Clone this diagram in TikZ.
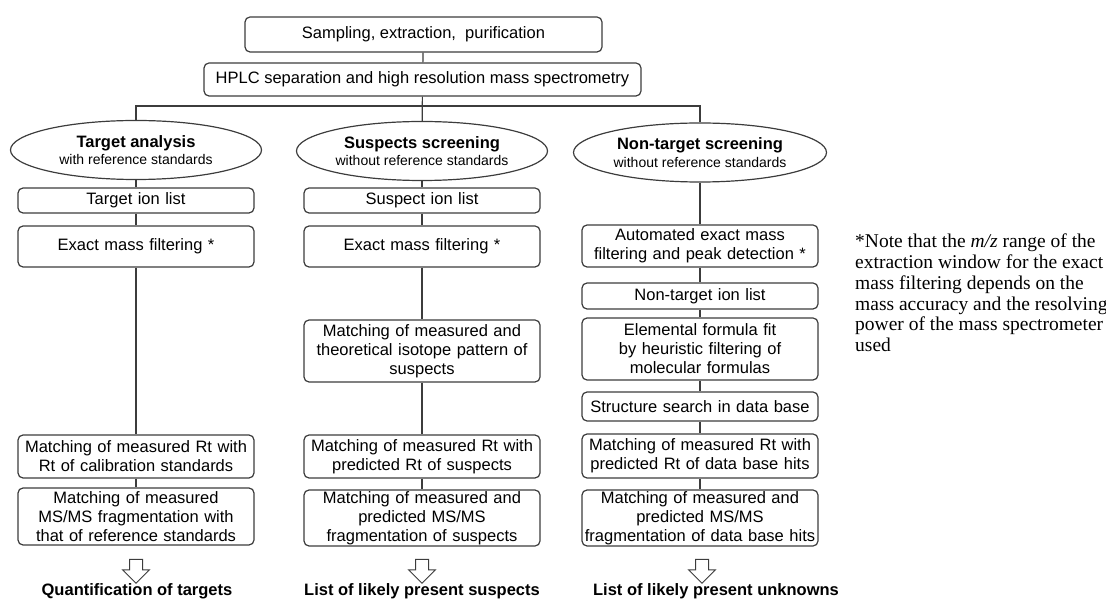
\documentclass[tikz,border=0pt]{standalone}
\usepackage{fontspec}
\setmainfont{Liberation Sans}
\newfontfamily\notefont{Liberation Serif}
\usepackage{tikz}
\usetikzlibrary{positioning}
\usetikzlibrary{shapes}
\definecolor{linegray}{HTML}{3C3C3C}
\newcommand{\subfont}{\fontsize{14}{16}\selectfont}

\begin{document}
\begin{tikzpicture}[x=1pt,y=-1pt,
  every node/.style={font=\fontsize{16.5}{19}\selectfont},
  topbox/.style={draw=linegray,line width=1.2pt,rounded corners=5pt,inner sep=0pt},
  stepbox/.style={draw=linegray,line width=1.2pt,rounded corners=5pt,align=center,
    text width=232pt,inner xsep=2pt,inner ysep=0pt},
  approach/.style={ellipse,draw=linegray,line width=1.2pt,align=center,inner sep=0pt,
    minimum width=251pt,minimum height=59pt},
  hollow/.style={single arrow,draw=linegray,line width=1pt,fill=white,
    shape border rotate=270,minimum height=24pt,inner sep=6pt,single arrow head extend=7pt},
  result/.style={font=\fontsize{16.5}{19}\selectfont\bfseries},
  connector/.style={draw=linegray,line width=1.2pt}]
\useasboundingbox (0,0) rectangle (1106,601);
\newcommand{\xtar}{136}
\newcommand{\xsus}{422}
\newcommand{\xnon}{700}

% common part
\node[topbox,minimum width=357pt,minimum height=35pt] (sample) at (423.5,34.5) {Sampling, extraction,\ \ purification};
\node[topbox,minimum width=437pt,minimum height=33pt] (hplc) at (422.5,79.5) {HPLC separation and high resolution mass spectrometry};
\coordinate (bus) at (\xsus,106);

\node[approach] (target) at (\xtar,150) {\textbf{Target analysis}\\[-1.5pt]{\subfont with reference standards}};
\node[approach] (suspects) at (\xsus,151) {\textbf{Suspects screening}\\[-1.5pt]{\subfont without reference standards}};
\node[approach,minimum width=253pt] (nontarget) at (\xnon,152.5) {\textbf{Non-target screening}\\[-0.5pt]{\subfont without reference standards}};

% target analysis
\node[stepbox,minimum height=25pt] (tlist) at (\xtar,200.5) {Target ion list};
\node[stepbox,minimum height=41pt] (tfilter) at (\xtar,246.5) {Exact mass filtering *};
\node[stepbox,minimum height=43pt] (trt) at (\xtar,456.5) {Matching of measured Rt with\\Rt of calibration standards};
\node[stepbox,minimum height=57pt] (tmsms) at (\xtar,516.5) {Matching of measured\\MS/MS fragmentation with\\that of reference standards};

% suspects screening
\node[stepbox,minimum height=25pt] (slist) at (\xsus,200.5) {Suspect ion list};
\node[stepbox,minimum height=41pt] (sfilter) at (\xsus,246.5) {Exact mass filtering *};
\node[stepbox,minimum height=62pt] (siso) at (\xsus,351) {Matching of measured and\\theoretical isotope pattern of\\suspects};
\node[stepbox,minimum height=43pt] (srt) at (\xsus,456.5) {Matching of measured Rt with\\predicted Rt of suspects};
\node[stepbox,minimum height=56pt] (smsms) at (\xsus,518) {Matching of measured and\\predicted MS/MS\\fragmentation of suspects};

% non-target screening
\node[stepbox,minimum height=42pt] (nfilter) at (\xnon,246) {Automated exact mass\\filtering and peak detection *};
\node[stepbox,minimum height=26pt] (nlist) at (\xnon,296) {Non-target ion list};
\node[stepbox,minimum height=62pt] (nformula) at (\xnon,349) {Elemental formula fit\\by heuristic filtering of\\molecular formulas};
\node[stepbox,minimum height=29pt] (nsearch) at (\xnon,406.5) {Structure search in data base};
\node[stepbox,minimum height=44pt] (nrt) at (\xnon,456) {Matching of measured Rt with\\predicted Rt of data base hits};
\node[stepbox,minimum height=56pt] (nmsms) at (\xnon,518) {Matching of measured and\\predicted MS/MS\\fragmentation of data base hits};

% results
\node[hollow] (tarr) at (\xtar,568) {};
\node[hollow] (sarr) at (\xsus,568) {};
\node[hollow] (narr) at (\xnon+2,568) {};
\node[result] (tres) at (\xtar+1,591) {Quantification of targets};
\node[result] (sres) at (\xsus,591) {List of likely present suspects};
\node[result] (nres) at (\xnon+16,591) {List of likely present unknowns};

\node[inner sep=0pt,anchor=north west,align=left,font=\notefont\fontsize{19.5}{20.7}\selectfont] (note) at (855,234)
  {*Note that the \textit{m/z} range of the\\extraction window for the exact\\mass filtering depends on the\\mass accuracy and the resolving\\power of the mass spectrometer\\used};

\draw[connector] (sample) -- (hplc);
\draw[connector] (hplc) -- (suspects);
\draw[connector] (target) |- (bus) -| (nontarget);

\draw[connector]
  (target) edge (tlist)
  (tlist) edge (tfilter)
  (tfilter) edge (trt)
  (trt) edge (tmsms)
  (suspects) edge (slist)
  (slist) edge (sfilter)
  (sfilter) edge (siso)
  (siso) edge (srt)
  (srt) edge (smsms)
  (nontarget) edge (nfilter)
  (nfilter) edge (nlist)
  (nlist) edge (nformula)
  (nformula) edge (nsearch)
  (nsearch) edge (nrt)
  (nrt) edge (nmsms);

\end{tikzpicture}
\end{document}
